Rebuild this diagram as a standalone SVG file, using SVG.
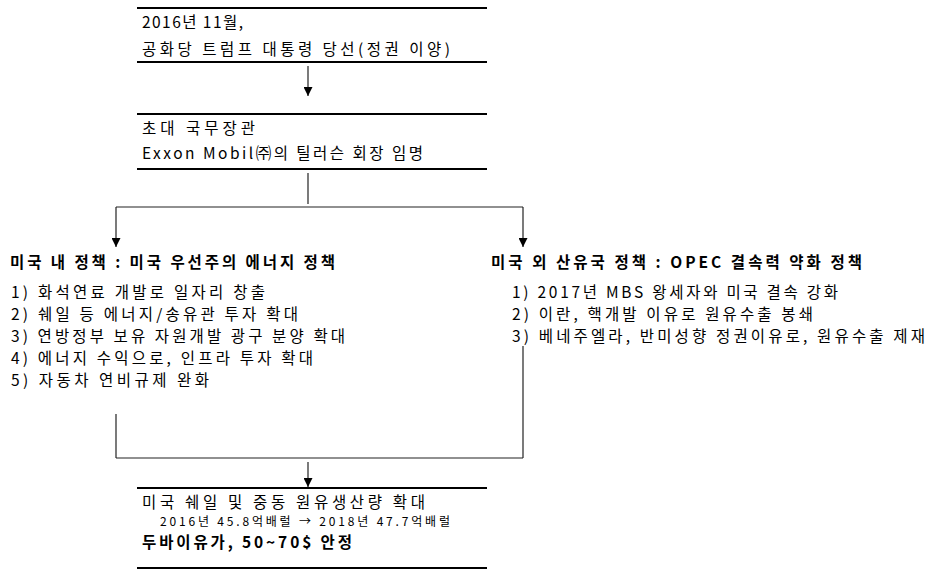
<svg xmlns="http://www.w3.org/2000/svg" width="926" height="571" viewBox="0 0 926 571">
<defs>
<marker id="ah" viewBox="0 0 10 10" refX="10" refY="5" markerWidth="9" markerHeight="9" markerUnits="userSpaceOnUse" orient="auto">
<path d="M0,0 L10,5 L0,10 z" fill="#000"/>
</marker>
<style>
text{font-family:"Noto Sans CJK KR","Malgun Gothic",sans-serif;fill:#000;font-size:15.5px}
.b{font-weight:bold}
.s{font-size:12px}
.rule{stroke:#000;stroke-width:2.2;fill:none}
.c{stroke:#222;stroke-width:1.2;fill:none}
.a{stroke:#222;stroke-width:1.2;fill:none;marker-end:url(#ah)}
</style>
</defs>
<rect width="926" height="571" fill="#fff"/>
<g id="node-election">
<line class="rule" x1="137" y1="8" x2="487" y2="8"/>
<text x="142" y="28" textLength="101">2016년 11월,</text>
<text x="142" y="55" textLength="308">공화당 트럼프 대통령 당선(정권 이양)</text>
<line class="rule" x1="137" y1="62" x2="487" y2="62"/>
</g>
<g id="node-secretary">
<line class="rule" x1="137" y1="114" x2="487" y2="114"/>
<text x="142" y="134" textLength="113">초대 국무장관</text>
<text x="142" y="159" textLength="281">Exxon Mobil㈜의 틸러슨 회장 임명</text>
<line class="rule" x1="137" y1="169" x2="487" y2="169"/>
</g>
<g id="node-domestic">
<text class="b" x="10" y="268" textLength="325">미국 내 정책 : 미국 우선주의 에너지 정책</text>
<text x="11" y="298" textLength="254">1) 화석연료 개발로 일자리 창출</text>
<text x="11" y="320" textLength="287">2) 쉐일 등 에너지/송유관 투자 확대</text>
<text x="11" y="342" textLength="334">3) 연방정부 보유 자원개발 광구 분양 확대</text>
<text x="11" y="364" textLength="302">4) 에너지 수익으로, 인프라 투자 확대</text>
<text x="11" y="386" textLength="198">5) 자동차 연비규제 완화</text>
</g>
<g id="node-foreign">
<text class="b" x="491" y="268" textLength="371">미국 외 산유국 정책 : OPEC 결속력 약화 정책</text>
<text x="512" y="298" textLength="326">1) 2017년 MBS 왕세자와 미국 결속 강화</text>
<text x="512" y="320" textLength="301">2) 이란, 핵개발 이유로 원유수출 봉쇄</text>
<text x="512" y="342" textLength="413">3) 베네주엘라, 반미성향 정권이유로, 원유수출 제재</text>
</g>
<g id="node-result">
<line class="rule" x1="137" y1="488" x2="487" y2="488"/>
<text x="142" y="508" textLength="283">미국 쉐일 및 중동 원유생산량 확대</text>
<text class="s" x="160" y="526" textLength="290">2016년 45.8억배럴 → 2018년 47.7억배럴</text>
<text class="b" x="142" y="548" textLength="210">두바이유가, 50~70$ 안정</text>
<line class="rule" x1="137" y1="568" x2="487" y2="568"/>
</g>
<g id="connectors">
<line class="a" x1="308" y1="66" x2="308" y2="96"/>
<line class="c" x1="308" y1="173" x2="308" y2="204"/>
<line class="c" x1="116" y1="207" x2="523" y2="207"/>
<line class="a" x1="116" y1="207" x2="116" y2="247"/>
<line class="a" x1="523" y1="207" x2="523" y2="247"/>
<line class="c" x1="116" y1="414" x2="116" y2="458"/>
<line class="c" x1="523" y1="346" x2="523" y2="458"/>
<line class="c" x1="116" y1="458" x2="523" y2="458"/>
<line class="a" x1="308" y1="462" x2="308" y2="487"/>
</g>
</svg>
